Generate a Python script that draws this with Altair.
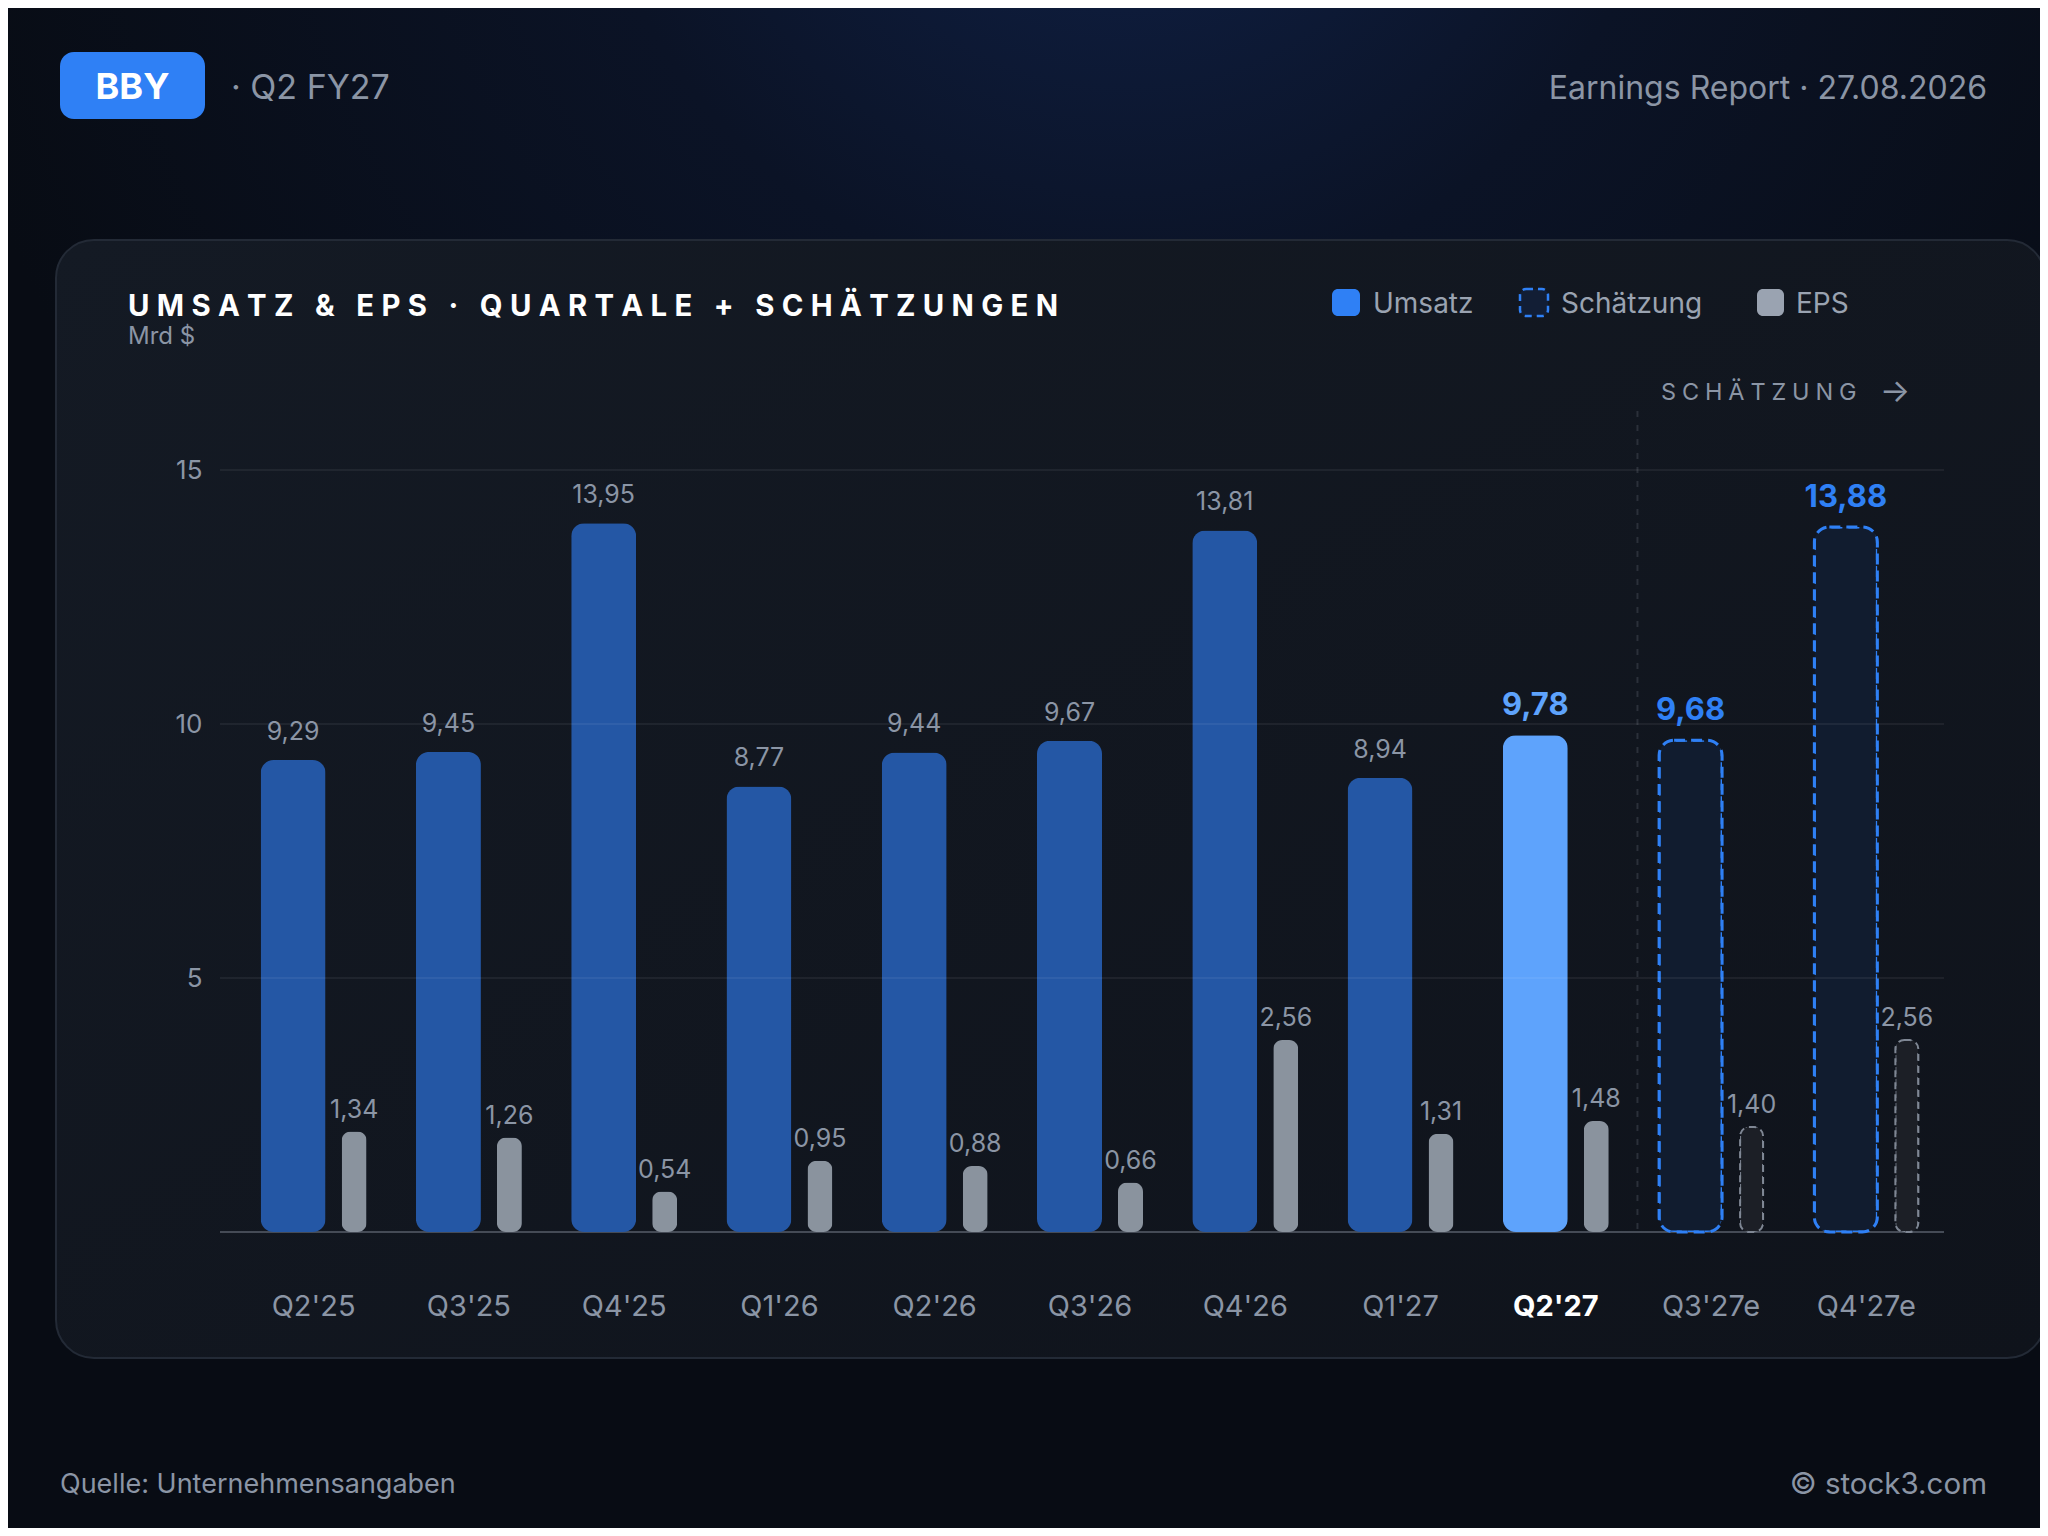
import altair as alt
import pandas as pd

# ---------------- data ----------------
quarters = ["Q2'25", "Q3'25", "Q4'25", "Q1'26", "Q2'26", "Q3'26",
            "Q4'26", "Q1'27", "Q2'27", "Q3'27e", "Q4'27e"]
revenue = [9.29, 9.45, 13.95, 8.77, 9.44, 9.67, 13.81, 8.94, 9.78, 9.68, 13.88]
eps = [1.34, 1.26, 0.54, 0.95, 0.88, 0.66, 2.56, 1.31, 1.48, 1.40, 2.56]
status = ["ist"] * 8 + ["aktuell"] + ["schaetzung"] * 2
y_ticks = [5, 10, 15]
rev_domain = [0, 15]
eps_domain = [0, 10.16]
current_q = "Q2'27"

df = pd.DataFrame({"q": quarters, "rev": revenue, "eps": eps, "status": status})

# ---------------- style ----------------
FONT = "Inter"
GRAY = "#8b95a5"
LGRAY = "#9aa3b1"
one = alt.Data(values=[{"k": 1}])


def spaced(s, sp="\u2005"):
    return sp.join(s)


x_scale = alt.Scale(domain=quarters, range=[16, 1724], paddingInner=0, paddingOuter=0)
rev_scale = alt.Scale(domain=rev_domain, nice=False, zero=True)
eps_scale = alt.Scale(domain=eps_domain, nice=False, zero=True)

test_cur = "datum.value === \"%s\"" % current_q
x_axis = alt.Axis(
    title=None, labelAngle=0, labelFont=FONT, labelFontSize=29, labelPadding=60,
    ticks=False, domain=False, grid=False, zindex=1,
    labelColor={"condition": {"test": test_cur, "value": "#ffffff"}, "value": GRAY},
    labelFontWeight={"condition": {"test": test_cur, "value": "bold"}, "value": "normal"},
)
y_axis = alt.Axis(
    title=None, values=y_ticks, grid=False, domain=False, ticks=False,
    labelFont=FONT, labelFontSize=26, labelColor=GRAY, labelPadding=18, zindex=1,
)

x_enc = alt.X("q:N", scale=x_scale, axis=x_axis)
y_rev_ax = alt.Y("rev:Q", scale=rev_scale, axis=y_axis)
y_rev = alt.Y("rev:Q", scale=rev_scale, axis=None)
y_eps = alt.Y("eps:Q", scale=eps_scale, axis=None)

base = alt.Chart(df).transform_calculate(
    rev_lbl="replace(format(datum.rev, '.2f'), '.', ',')",
    eps_lbl="replace(format(datum.eps, '.2f'), '.', ',')",
)


def rect(x, x2, y, y2, **kw):
    return alt.Chart(one).mark_rect(**kw).encode(
        x=alt.value(x), x2=alt.value(x2), y=alt.value(y), y2=alt.value(y2))


def txt(s, x, y, size, color, weight="normal", align="left", font=FONT):
    return alt.Chart(one).mark_text(
        text=s, font=font, fontSize=size, color=color, fontWeight=weight,
        align=align, baseline="middle").encode(x=alt.value(x), y=alt.value(y))


# ---------------- background & card ----------------
bg = rect(-212, 1820, -462, 1058, color=alt.Gradient(
    gradient="radial",
    stops=[alt.GradientStop(color="#10224a", offset=0),
           alt.GradientStop(color="#0b1326", offset=0.45),
           alt.GradientStop(color="#080c14", offset=1)],
    x1=0.55, y1=0.0, r1=0, x2=0.55, y2=0.0, r2=0.6))

card = rect(-164, 1825, -230, 888, cornerRadius=38, stroke="#232a36", strokeWidth=2,
            color=alt.Gradient(
                gradient="linear",
                stops=[alt.GradientStop(color="#141a24", offset=0),
                       alt.GradientStop(color="#0f131b", offset=1)],
                x1=0, y1=0, x2=1, y2=1))

# gridlines and baseline from the tick values through the y scale
grid = alt.Chart(pd.DataFrame({"t": y_ticks})).mark_rule(
    color="#ffffff", opacity=0.08, strokeWidth=1.5).encode(
    y=alt.Y("t:Q", scale=rev_scale, axis=None), x=alt.value(0), x2=alt.value(1724))
baseline = alt.Chart(pd.DataFrame({"t": [0]})).mark_rule(
    color="#454b56", strokeWidth=2).encode(
    y=alt.Y("t:Q", scale=rev_scale, axis=None), x=alt.value(0), x2=alt.value(1724))

# ---------------- header ----------------
badge = rect(-160, -15, -418, -351, cornerRadius=14, color="#2f80f5")
badge_t = txt("BBY", -87.5, -382, 36, "#ffffff", weight="bold", align="center")
sub_t = txt("· Q2 FY27", 11, -381, 34, GRAY)
rep_t = txt("Earnings Report · 27.08.2026", 1767, -381, 32, GRAY, align="right")

title_t = txt(spaced("UMSATZ & EPS · QUARTALE + SCHÄTZUNGEN"), -92, -163, 29.3, "#ffffff", weight="bold")
unit_t = txt("Mrd $", -92, -133, 24, GRAY)

# legend
lg1 = rect(1112, 1140, -181, -154, cornerRadius=6, color="#2f80f5")
lg2 = rect(1300, 1328, -181, -154, cornerRadius=6, color="#121e35",
           stroke="#2f80f5", strokeWidth=2.5, strokeDash=[7, 5])
lg3 = rect(1537, 1564, -181, -154, cornerRadius=6, color=LGRAY)
lt1 = txt("Umsatz", 1153, -165, 28, LGRAY)
lt2 = txt("Schätzung", 1341, -165, 28, LGRAY)
lt3 = txt("EPS", 1576, -165, 28, LGRAY)

est_t = txt(spaced("SCHÄTZUNG"), 1441, -77, 23.5, GRAY)
arrow_t = txt("→", 1675, -78, 32, GRAY, align="center")

# footer
src_t = txt("Quelle: Unternehmensangaben", -160, 1015, 27, GRAY)
copy_t = txt("© stock3.com", 1767, 1015, 29.5, GRAY, align="right")

# ---------------- bars ----------------
rev_act = base.transform_filter("datum.status !== 'schaetzung'").mark_bar(
    width=65, xOffset=-20.5, cornerRadius=13).encode(
    x=x_enc, y=y_rev_ax,
    color=alt.Color("status:N", scale=alt.Scale(domain=["ist", "aktuell"],
                                                range=["#2457a5", "#5ea3fc"]), legend=None))

rev_est = base.transform_filter("datum.status === 'schaetzung'").mark_bar(
    width=63, xOffset=-20.5, cornerRadius=15, fill="#111c2f", stroke="#2f80f5",
    strokeWidth=3, strokeDash=[11, 6]).encode(x=x_enc, y=y_rev)

eps_act = base.transform_filter("datum.status !== 'schaetzung'").mark_bar(
    width=25, xOffset=40.5, cornerRadius=9, color="#8a939e").encode(x=x_enc, y=y_eps)

eps_est = base.transform_filter("datum.status === 'schaetzung'").mark_bar(
    width=23, xOffset=40.5, cornerRadius=9, fill="#1c1f26", stroke="#7f8794",
    strokeWidth=2, strokeDash=[7, 5]).encode(x=x_enc, y=y_eps)

# ---------------- labels ----------------
lbl_ist = base.transform_filter("datum.status === 'ist'").mark_text(
    xOffset=-20.5, dy=-20, baseline="alphabetic", font=FONT, fontSize=25, color=GRAY).encode(
    x=x_enc, y=y_rev, text="rev_lbl:N")
lbl_cur = base.transform_filter("datum.status === 'aktuell'").mark_text(
    xOffset=-20.5, dy=-20, baseline="alphabetic", font=FONT, fontSize=31,
    fontWeight="bold", color="#5ea3fc").encode(x=x_enc, y=y_rev, text="rev_lbl:N")
lbl_est = base.transform_filter("datum.status === 'schaetzung'").mark_text(
    xOffset=-20.5, dy=-20, baseline="alphabetic", font=FONT, fontSize=31,
    fontWeight="bold", color="#2f80f5").encode(x=x_enc, y=y_rev, text="rev_lbl:N")
lbl_eps = base.mark_text(
    xOffset=40.5, dy=-14, baseline="alphabetic", font=FONT, fontSize=25, color=GRAY).encode(
    x=x_enc, y=y_eps, text="eps_lbl:N")

# divider between actuals and estimates
divider = alt.Chart(alt.Data(values=[{"q": quarters[9]}])).mark_rule(
    xOffset=4, strokeDash=[6, 8], strokeWidth=2, color="#2b303a").encode(
    x=alt.X("q:N", scale=x_scale, axis=x_axis, bandPosition=0),
    y=alt.value(-59), y2=alt.value(762))

chart = alt.layer(
    bg, card, badge, badge_t, sub_t, rep_t, title_t, unit_t,
    lg1, lg2, lg3, lt1, lt2, lt3, est_t, arrow_t, src_t, copy_t,
    divider, baseline, rev_act, rev_est, eps_act, eps_est, grid,
    lbl_ist, lbl_cur, lbl_est, lbl_eps,
).resolve_scale(y="independent").properties(
    width=1724, height=762,
    padding={"left": 212, "top": 462, "right": 96, "bottom": 296},
    autosize=alt.AutoSizeParams(type="none"),
    background="#090d14",
).configure_view(stroke=None)

chart.save("out.html", embed_options={"renderer": "svg", "actions": False})
